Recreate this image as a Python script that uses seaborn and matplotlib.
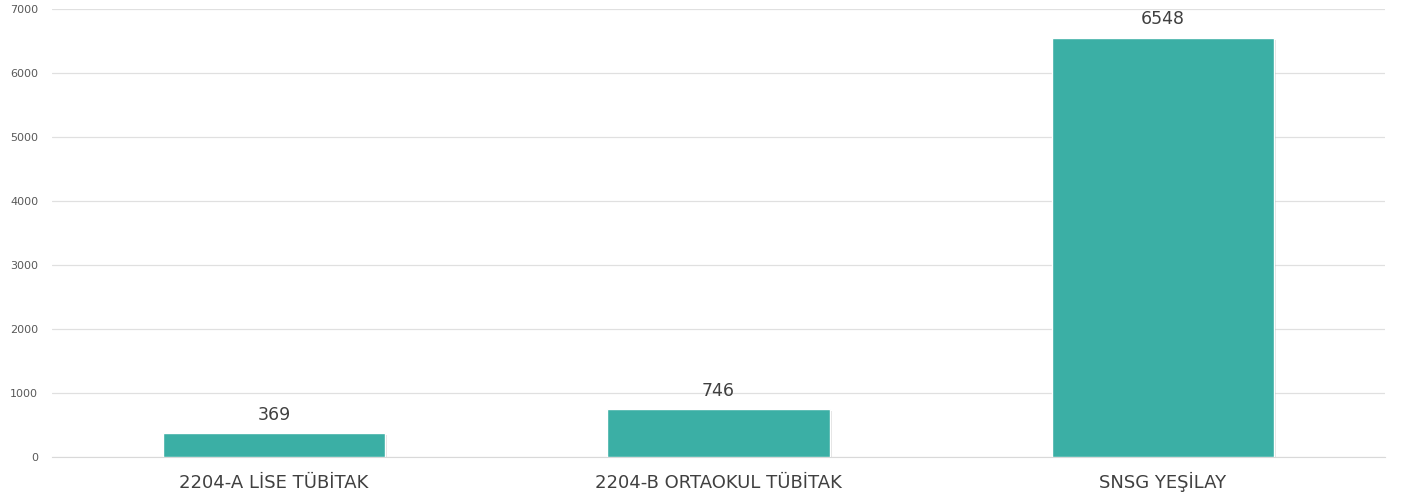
import matplotlib
matplotlib.use("Agg")
import matplotlib.pyplot as plt
import matplotlib.patheffects as pe
import seaborn as sns
import pandas as pd

# data
categories = ["2204-A LİSE TÜBİTAK", "2204-B ORTAOKUL TÜBİTAK", "SNSG YEŞİLAY"]
values = [369, 746, 6548]
yticks = [0, 1000, 2000, 3000, 4000, 5000, 6000, 7000]

df = pd.DataFrame({"kategori": categories, "deger": values})

sns.set_style("white")
plt.rcParams['font.family'] = ['DejaVu Sans']

fig = plt.figure(figsize=(14.02, 5.01), dpi=100)
ax = fig.add_axes([52/1402, 44/501, (1385-52)/1402, (457-9)/501])

sns.barplot(data=df, x="kategori", y="deger", color="#3BAFA5", width=0.5,
            saturation=1, ax=ax, zorder=3)
for p in ax.patches:
    p.set_path_effects([pe.SimplePatchShadow(offset=(1.5, -1.5), shadow_rgbFace="#999999", alpha=0.3), pe.Normal()])

ax.set_ylim(0, 7000)
ax.set_xlim(-0.5, 2.5)
ax.set_yticks(yticks)
ax.set_yticklabels([str(t) for t in yticks], fontsize=8, color="#595959")
ax.tick_params(axis="x", labelsize=13, colors="#404040", length=0, pad=22.5)
for lab in ax.get_xticklabels():
    lab.set_va("baseline")
ax.tick_params(axis="y", length=0, pad=10)
ax.grid(axis="y", color="#e0e0e0", linewidth=0.9, zorder=0)
ax.set_xlabel("")
ax.set_ylabel("")
for s in ["top", "right", "left"]:
    ax.spines[s].set_visible(False)
ax.spines["bottom"].set_color("#d9d9d9")

for i, v in enumerate(values):
    ax.text(i, v + 150, str(v), ha="center", va="bottom", fontsize=12.5, color="#404040")

fig.savefig("out.png", dpi=100)
